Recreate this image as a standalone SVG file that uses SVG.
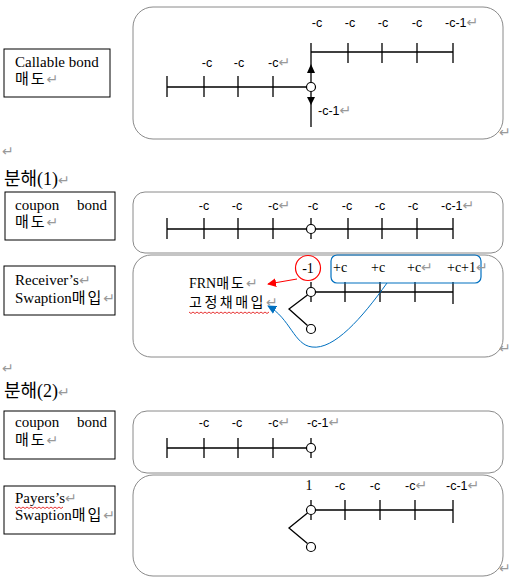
<svg xmlns="http://www.w3.org/2000/svg" width="510" height="579" viewBox="0 0 510 579">
<style>
.box{fill:#fff;stroke:#000;stroke-width:1}
.panel{fill:#fff;stroke:#8a8a8a;stroke-width:1}
.tl{stroke:#000;stroke-width:1.3;fill:none}
.nd{fill:#fff;stroke:#000;stroke-width:1.2}
.t{font-family:"Liberation Serif","Noto Sans CJK KR",serif;font-size:15px;fill:#000}
.h{font-family:"Liberation Serif","Noto Sans CJK KR",serif;font-size:18px;fill:#000}
.lab{font-family:"Liberation Sans","Noto Sans CJK KR",sans-serif;font-size:12.5px;fill:#000}
.sl{font-family:"Liberation Serif","Noto Sans CJK KR",serif;font-size:14px;fill:#000}
.ko{letter-spacing:2px}
.pm{fill:#999;font-family:"DejaVu Sans",sans-serif;font-size:14px;letter-spacing:0}
.wavy{fill:none;stroke:#e00000;stroke-width:0.8}
</style>
<defs>
<marker id="ar" viewBox="0 0 10 10" refX="9" refY="5" markerWidth="9" markerHeight="9" markerUnits="userSpaceOnUse" orient="auto"><path d="M0,0 L10,5 L0,10 z" fill="#ff0000"/></marker>
<marker id="ab" viewBox="0 0 10 10" refX="9" refY="5" markerWidth="9" markerHeight="9" markerUnits="userSpaceOnUse" orient="auto"><path d="M0,0 L10,5 L0,10 z" fill="#0070c0"/></marker>
</defs>
<rect width="510" height="579" fill="#fff"/>

<!-- Headings and stray marks -->
<text class="pm" x="2" y="156">↵</text>
<text class="h" x="4" y="185">분해(1)<tspan class="pm">↵</tspan></text>
<text class="pm" x="2" y="373">↵</text>
<text class="h" x="4" y="397">분해(2)<tspan class="pm">↵</tspan></text>

<!-- Label nodes -->
<g id="lbl-callable">
<rect class="box" x="4" y="49" width="106" height="48"/>
<text class="t" x="15" y="67">Callable bond</text>
<text class="t" x="15" y="84"><tspan class="ko">매도</tspan><tspan class="pm">↵</tspan></text>
</g>
<g id="lbl-coupon1">
<rect class="box" x="5" y="192" width="110" height="48"/>
<text class="t" x="15" y="210">coupon</text>
<text class="t" x="77" y="210">bond</text>
<text class="t" x="15" y="227"><tspan class="ko">매도</tspan><tspan class="pm">↵</tspan></text>
</g>
<g id="lbl-receiver">
<rect class="box" x="4" y="266" width="111" height="49"/>
<text class="t" x="15" y="285">Receiver’s<tspan class="pm">↵</tspan></text>
<text class="t" x="15" y="303">Swaption<tspan class="ko">매입</tspan><tspan class="pm">↵</tspan></text>
</g>
<g id="lbl-coupon2">
<rect class="box" x="4" y="411" width="111" height="48"/>
<text class="t" x="15" y="427">coupon</text>
<text class="t" x="77" y="427">bond</text>
<text class="t" x="15" y="445"><tspan class="ko">매도</tspan><tspan class="pm">↵</tspan></text>
</g>
<g id="lbl-payer">
<rect class="box" x="4" y="486" width="111" height="48"/>
<text class="t" x="15" y="503">Payers’s<tspan class="pm">↵</tspan></text>
<path class="wavy" d="M15,507 l2,1.5 l2,-1.5 l2,1.5 l2,-1.5 l2,1.5 l2,-1.5 l2,1.5 l2,-1.5 l2,1.5 l2,-1.5 l2,1.5 l2,-1.5 l2,1.5 l2,-1.5 l2,1.5 l2,-1.5 l2,1.5 l2,-1.5 l2,1.5 l2,-1.5 l2,1.5 l2,-1.5 l2,1.5 l2,-1.5"/>
<text class="t" x="15" y="520">Swaption<tspan class="ko">매입</tspan><tspan class="pm">↵</tspan></text>
</g>

<!-- Panel 1: callable bond -->
<g id="panel-callable">
<rect class="panel" x="133" y="7" width="370" height="132" rx="20"/>
<path class="tl" d="M311,52 H453 M348,43 V63 M382,43 V63 M417,43 V63 M453,43 V63 M311,43 V66 M311,73 V82.5 M167,87 H306.5 M167,76 V97 M204,76 V97 M238,76 V97 M273,76 V97 M311,91.5 V127"/>
<path d="M311,64 L307,73 L315,73 z M311,105 L307,97 L315,97 z" fill="#000"/>
<circle class="nd" cx="311" cy="87" r="4.5"/>
<text class="lab" x="317" y="27" text-anchor="middle">-c</text>
<text class="lab" x="350" y="27" text-anchor="middle">-c</text>
<text class="lab" x="383" y="27" text-anchor="middle">-c</text>
<text class="lab" x="417" y="27" text-anchor="middle">-c</text>
<text class="lab" x="445" y="27">-c-1<tspan class="pm">↵</tspan></text>
<text class="lab" x="207" y="67" text-anchor="middle">-c</text>
<text class="lab" x="239" y="67" text-anchor="middle">-c</text>
<text class="lab" x="268" y="67">-c<tspan class="pm">↵</tspan></text>
<text class="lab" x="318" y="115">-c-1<tspan class="pm">↵</tspan></text>
<text class="pm" x="499" y="137">↵</text>
</g>

<!-- Panel 2: coupon bond (1) -->
<g id="panel-coupon1">
<rect class="panel" x="133" y="192" width="370" height="61" rx="12"/>
<path class="tl" d="M167,229 H453 M167,218 V239 M204,218 V239 M238,218 V239 M273,218 V239 M311,218 V239 M348,218 V239 M382,218 V239 M417,218 V239 M453,218 V239"/>
<circle class="nd" cx="311" cy="229" r="4.5"/>
<text class="lab" x="204" y="210" text-anchor="middle">-c</text>
<text class="lab" x="237" y="210" text-anchor="middle">-c</text>
<text class="lab" x="268" y="210">-c<tspan class="pm">↵</tspan></text>
<text class="lab" x="313" y="210" text-anchor="middle">-c</text>
<text class="lab" x="347" y="210" text-anchor="middle">-c</text>
<text class="lab" x="380" y="210" text-anchor="middle">-c</text>
<text class="lab" x="413" y="210" text-anchor="middle">-c</text>
<text class="lab" x="441" y="210">-c-1<tspan class="pm">↵</tspan></text>
</g>

<!-- Panel 3: receiver's swaption -->
<g id="panel-receiver">
<rect class="panel" x="133" y="255" width="370" height="102" rx="18"/>
<path class="tl" d="M315.5,292 H453 M311,282 V287.5 M311,296.5 V302 M345,282 V302 M380,282 V302 M415,282 V302 M453,282 V304 M307.5,295 L289,309 L307.5,325.5"/>
<circle class="nd" cx="311" cy="292" r="4.5"/>
<circle class="nd" cx="311" cy="329" r="4.5"/>
<text class="sl" x="189" y="288">FRN<tspan class="ko">매도</tspan><tspan class="pm">↵</tspan></text>
<text class="sl" x="189" y="307"><tspan class="ko" style="letter-spacing:2.5px">고정채매입</tspan><tspan class="pm">↵</tspan></text>
<path class="wavy" d="M189,312 l2,1.5 l2,-1.5 l2,1.5 l2,-1.5 l2,1.5 l2,-1.5 l2,1.5 l2,-1.5 l2,1.5 l2,-1.5 l2,1.5 l2,-1.5 l2,1.5 l2,-1.5 l2,1.5 l2,-1.5 l2,1.5 l2,-1.5 l2,1.5 l2,-1.5 l2,1.5 l2,-1.5 l2,1.5 l2,-1.5 l2,1.5 l2,-1.5 l2,1.5 l2,-1.5 l2,1.5 l2,-1.5 l2,1.5 l2,-1.5 l2,1.5 l2,-1.5 l2,1.5 l2,-1.5 l2,1.5 l2,-1.5 l2,1.5 l2,-1.5"/>
<g id="minus1">
<circle cx="308" cy="268" r="12.5" fill="#fff" stroke="#ff0000" stroke-width="1.2"/>
<text class="sl" x="308" y="273" text-anchor="middle">-1</text>
</g>
<g id="coupons">
<rect x="331" y="255" width="150" height="28" rx="6" fill="none" stroke="#0070c0" stroke-width="1.2"/>
<text class="sl" x="333" y="272">+c</text>
<text class="sl" x="371" y="272">+c</text>
<text class="sl" x="407" y="272">+c<tspan class="pm">↵</tspan></text>
<text class="sl" x="447" y="272">+c+1<tspan class="pm">↵</tspan></text>
</g>
<text class="pm" x="499" y="353">↵</text>
</g>

<!-- Panel 4: coupon bond (2) -->
<g id="panel-coupon2">
<rect class="panel" x="133" y="411" width="370" height="62" rx="14"/>
<path class="tl" d="M167,448 H306.5 M167,438 V458 M204,438 V458 M238,438 V458 M273,438 V458 M311,438 V458"/>
<circle class="nd" cx="311" cy="448" r="4.5"/>
<text class="lab" x="204" y="427" text-anchor="middle">-c</text>
<text class="lab" x="237" y="427" text-anchor="middle">-c</text>
<text class="lab" x="268" y="427">-c<tspan class="pm">↵</tspan></text>
<text class="lab" x="307" y="427">-c-1<tspan class="pm">↵</tspan></text>
</g>

<!-- Panel 5: payer's swaption -->
<g id="panel-payer">
<rect class="panel" x="133" y="475" width="370" height="101" rx="20"/>
<path class="tl" d="M315.5,510 H453 M311,500 V505.5 M311,514.5 V520 M345,500 V520 M380,500 V520 M415,500 V520 M453,500 V523 M307.5,513 L289,528 L307.5,543.5"/>
<circle class="nd" cx="311" cy="510" r="4.5"/>
<circle class="nd" cx="311" cy="547" r="4.5"/>
<text class="sl" x="309" y="490" text-anchor="middle">1</text>
<text class="lab" x="340" y="490" text-anchor="middle">-c</text>
<text class="lab" x="375" y="490" text-anchor="middle">-c</text>
<text class="lab" x="405" y="490">-c<tspan class="pm">↵</tspan></text>
<text class="lab" x="446" y="490">-c-1<tspan class="pm">↵</tspan></text>
<text class="pm" x="499" y="573">↵</text>
</g>

<!-- Connectors -->
<g id="connectors">
<path d="M297,279 L268,284" fill="none" stroke="#ff0000" stroke-width="1" marker-end="url(#ar)"/>
<path d="M387,283 C362,318 334,350 312,347 C294,345 290,318 268,306" fill="none" stroke="#0070c0" stroke-width="1" marker-end="url(#ab)"/>
</g>
</svg>
